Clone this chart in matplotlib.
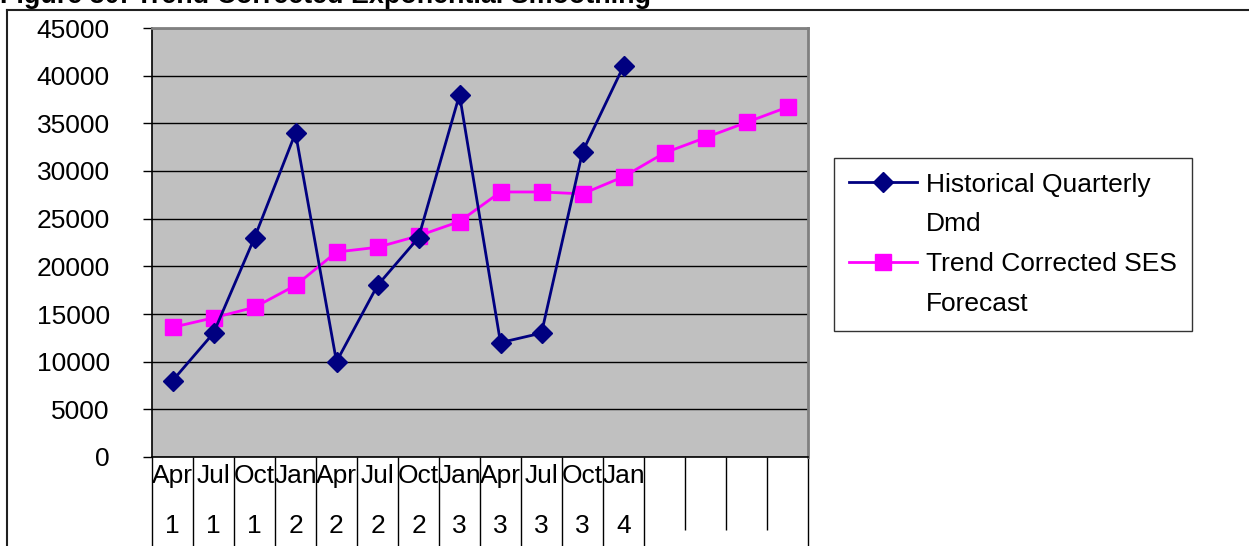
import matplotlib.pyplot as plt
from matplotlib.lines import Line2D
import numpy as np

plt.rcParams["font.family"] = ["Liberation Sans", "DejaVu Sans"]

# quarterly demand history and the trend corrected SES forecast
quarters = ["Apr", "Jul", "Oct", "Jan", "Apr", "Jul", "Oct", "Jan",
            "Apr", "Jul", "Oct", "Jan", "", "", "", ""]
years = ["1", "1", "1", "2", "2", "2", "2", "3", "3", "3", "3", "4", "", "", "", ""]
demand = [8000, 13000, 23000, 34000, 10000, 18000, 23000, 38000,
          12000, 13000, 32000, 41000]
forecast = [13600, 14600, 15700, 18000, 21500, 22000, 23200, 24700,
            27800, 27800, 27600, 29400, 31900, 33500, 35100, 36700]
y_ticks = list(range(0, 45001, 5000))

NAVY = "#000080"
MAGENTA = "#FF00FF"
FS = 19

fig = plt.figure(figsize=(12.49, 5.46), dpi=100)
ax = fig.add_axes([152 / 1249, 89 / 546, 656 / 1249, 429 / 546])
ax.set_facecolor("#C0C0C0")

x_all = np.arange(len(quarters))
ax.plot(np.arange(len(demand)), demand, color=NAVY, lw=2, marker="D",
        markersize=10.5, label="Historical Quarterly", zorder=4)
ax.plot(x_all, forecast, color=MAGENTA, lw=2, marker="s",
        markersize=11, label="Trend Corrected SES", zorder=3)

ax.set_xlim(-0.5, len(quarters) - 0.5)
ax.set_ylim(0, 45000)
ax.set_yticks(y_ticks)
ax.set_yticklabels([str(v) for v in y_ticks], fontsize=FS)
ax.tick_params(axis="y", direction="out", length=6.5, width=1, pad=24, colors="black")
ax.set_xticks([])
ax.yaxis.grid(True, color="black", lw=1)
ax.set_axisbelow(True)

for side in ("top", "right"):
    ax.spines[side].set_color("#808080")
    ax.spines[side].set_linewidth(2)
for side in ("left", "bottom"):
    ax.spines[side].set_color("black")
    ax.spines[side].set_linewidth(1.2)

# two-level category labels under the axis
xform = ax.get_xaxis_transform()
for i, (q, yr) in enumerate(zip(quarters, years)):
    ax.text(i, -0.044, q, transform=xform, ha="center", va="center", fontsize=FS)
    ax.text(i, -0.161, yr, transform=xform, ha="center", va="center", fontsize=FS)

n_labelled = sum(1 for q in quarters if q)
bounds = np.arange(len(quarters) + 1) - 0.5
full = [b for i, b in enumerate(bounds) if i <= n_labelled or i == len(quarters)]
short = [b for i, b in enumerate(bounds) if n_labelled < i < len(quarters)]
ax.vlines(full, -0.2075, 0, transform=xform, colors="black", lw=1, clip_on=False)
ax.vlines(short, -0.17, 0, transform=xform, colors="black", lw=1, clip_on=False)

handles = [
    Line2D([], [], color=NAVY, lw=2, marker="D", markersize=10.5),
    Line2D([], [], color="none"),
    Line2D([], [], color=MAGENTA, lw=2, marker="s", markersize=11),
    Line2D([], [], color="none"),
]
labels = ["Historical Quarterly", "Dmd", "Trend Corrected SES", "Forecast"]
leg = fig.legend(handles, labels, loc="upper left",
                 bbox_to_anchor=(834 / 1249, 1 - 158 / 546), fontsize=FS,
                 frameon=True, fancybox=False, edgecolor="black",
                 handlelength=2.6, handletextpad=0.35, borderpad=0.55,
                 labelspacing=0.6, borderaxespad=0)
leg.get_frame().set_linewidth(1)

# outer chart frame and title
fig.add_artist(Line2D([7 / 1249, 7 / 1249], [0, 1 - 10 / 546], color="#202020", lw=1.5))
fig.add_artist(Line2D([7 / 1249, 1], [1 - 10 / 546, 1 - 10 / 546], color="#202020", lw=1.5))
fig.text(0.0, 1 - 3 / 546, "Figure 30: Trend Corrected Exponential Smoothing",
         fontsize=19.4, fontweight="bold", ha="left", va="baseline")

fig.savefig("out.png", dpi=100)
